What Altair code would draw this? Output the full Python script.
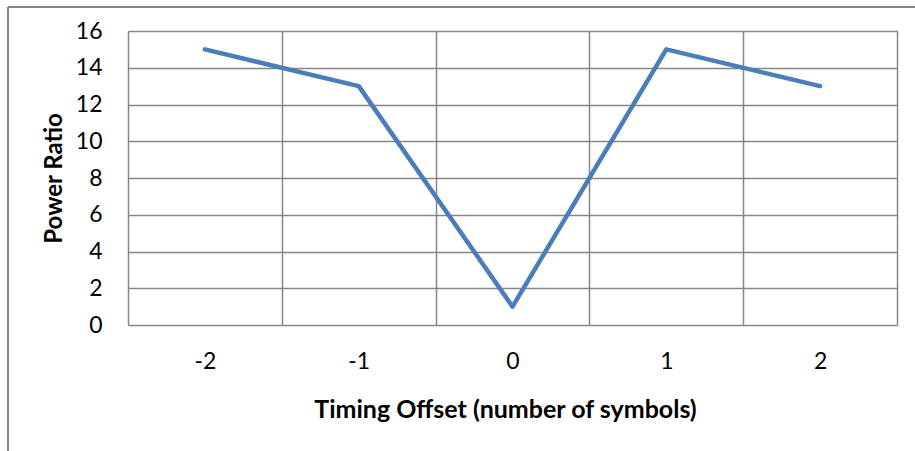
import altair as alt
import pandas as pd

offsets = [-2, -1, 0, 1, 2]
power_ratio = [15, 13, 1, 15, 13]

df = pd.DataFrame({"offset": offsets, "ratio": power_ratio})

FONT = "Lato"
GRID = "#868686"

line = alt.Chart(df).mark_line(
    color="#4a7ebb", strokeWidth=4.5, strokeCap="round", strokeJoin="round"
).encode(
    x=alt.X(
        "offset:O",
        bandPosition=0.5,
        scale=alt.Scale(type="band", paddingInner=0, paddingOuter=0),
        axis=alt.Axis(
            title="Timing Offset (number of symbols)",
            labelAngle=0,
            tickBand="extent",
            grid=True,
            gridColor=GRID,
            gridWidth=1.5,
            ticks=False,
            domain=False,
            labelPadding=25,
            labelFontSize=23,
            labelFont=FONT,
            labelColor="black",
            titleFont=FONT,
            titleFontSize=25,
            titleFontWeight="bold",
            titleColor="black",
            titlePadding=24,
            titleX=377,
            titleAlign="center",
        ),
    ),
    y=alt.Y(
        "ratio:Q",
        scale=alt.Scale(domain=[0, 16], nice=False),
        axis=alt.Axis(
            title="Power Ratio",
            values=[0, 2, 4, 6, 8, 10, 12, 14, 16],
            grid=True,
            gridColor=GRID,
            gridWidth=1.5,
            ticks=False,
            domain=False,
            labelPadding=26,
            labelFontSize=23,
            labelFont=FONT,
            labelColor="black",
            titleFont=FONT,
            titleFontSize=24,
            titleFontWeight="bold",
            titleColor="black",
            titlePadding=9,
        ),
    ),
)

border = alt.Chart(df).mark_rule(color=GRID, strokeWidth=1.5).encode(
    x=alt.value(-120), x2=alt.value(787), y=alt.value(-24)
)
border_left = alt.Chart(df).mark_rule(color=GRID, strokeWidth=1.5).encode(
    x=alt.value(-120), y=alt.value(-24), y2=alt.value(420)
)

chart = alt.layer(line, border, border_left).properties(
    width=769,
    height=294,
    autosize=alt.AutoSizeParams(type="none"),
    padding={"left": 128, "top": 31, "right": 18, "bottom": 126},
).configure_view(stroke=GRID, strokeWidth=1.5).configure(background="white")

chart.save("out.html", embed_options={"renderer": "svg", "actions": False})
